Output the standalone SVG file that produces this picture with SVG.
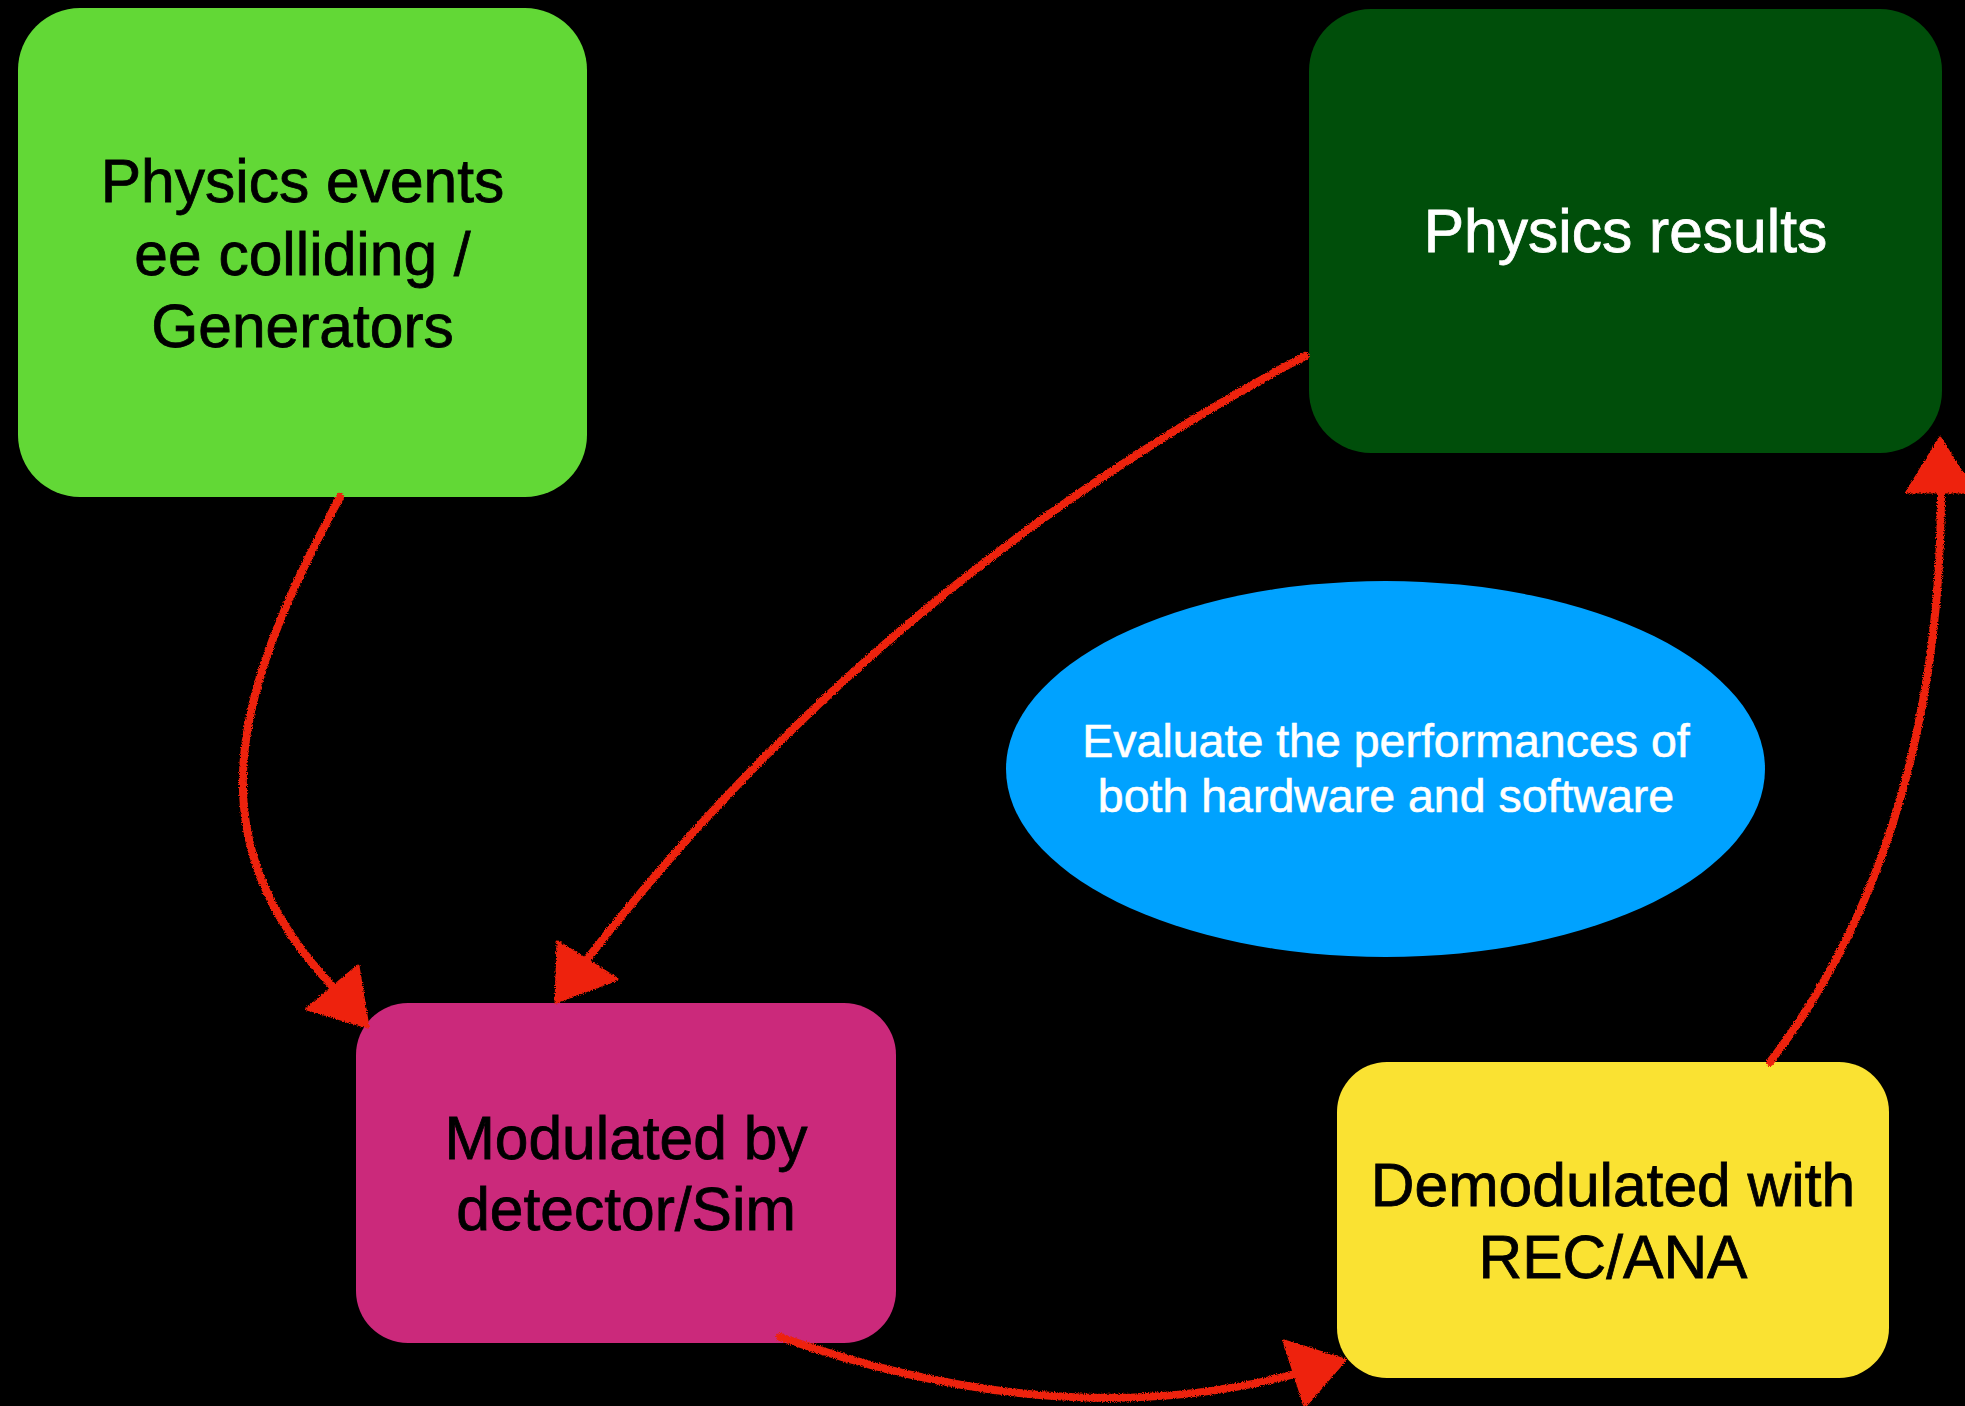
<svg xmlns="http://www.w3.org/2000/svg" width="1965" height="1406" viewBox="0 0 1965 1406">
  <style>
    .lbl { font-family: "Liberation Sans", Arial, Helvetica, sans-serif; font-size: 60.5px; text-anchor: middle; stroke-width: 0.8; }
    .dark { fill: #000000; stroke: #000000; }
    .light { fill: #FFFFFF; stroke: #FFFFFF; }
    .small { font-size: 46.5px; stroke-width: 0.6; }
    .line { fill: none; stroke: #EE220C; stroke-width: 8; stroke-linecap: round; }
    .head { fill: #EE220C; stroke: #EE220C; stroke-width: 3; stroke-linejoin: round; }
  </style>
  <defs>
    <filter id="chalk" filterUnits="userSpaceOnUse" x="0" y="0" width="1965" height="1406">
      <feTurbulence type="fractalNoise" baseFrequency="0.9" numOctaves="2" seed="3" result="n"/>
      <feDisplacementMap in="SourceGraphic" in2="n" scale="4" xChannelSelector="R" yChannelSelector="G"/>
    </filter>
  </defs>
  <rect x="0" y="0" width="1965" height="1406" fill="#000000"/>

  <g id="node-physics-events">
    <rect x="18" y="8" width="569" height="489" rx="62" ry="62" fill="#62D836"/>
    <text class="lbl dark" x="302.5" y="202">Physics events</text>
    <text class="lbl dark" x="302.5" y="275">ee colliding /</text>
    <text class="lbl dark" x="302.5" y="347">Generators</text>
  </g>

  <g id="node-physics-results">
    <rect x="1309" y="9" width="633" height="444" rx="62" ry="62" fill="#004E0A"/>
    <text class="lbl light" x="1625.5" y="252">Physics results</text>
  </g>

  <g id="node-evaluate">
    <ellipse cx="1385.5" cy="769" rx="379.5" ry="188" fill="#00A2FF"/>
    <text class="lbl light small" x="1386" y="757">Evaluate the performances of</text>
    <text class="lbl light small" x="1386" y="812">both hardware and software</text>
  </g>

  <g id="node-modulated">
    <rect x="356" y="1003" width="540" height="340" rx="52" ry="52" fill="#CB297B"/>
    <text class="lbl dark" x="626" y="1159">Modulated by</text>
    <text class="lbl dark" x="626" y="1230">detector/Sim</text>
  </g>

  <g id="node-demodulated">
    <rect x="1337" y="1062" width="552" height="316" rx="50" ry="50" fill="#FAE232"/>
    <text class="lbl dark" x="1613" y="1206">Demodulated with</text>
    <text class="lbl dark" x="1613" y="1278">REC/ANA</text>
  </g>

  <g id="connectors" filter="url(#chalk)">
    <!-- Physics events -> Modulated -->
    <path class="line" d="M340,497 C230,700 195,840 333,987"/>
    <polygon class="head" points="307,1009 358,966 368,1027"/>
    <!-- Physics results -> Modulated -->
    <path class="line" d="M1305,356 Q883,580 588,958"/>
    <polygon class="head" points="558,942 617,979 556,1002"/>
    <!-- Modulated -> Demodulated -->
    <path class="line" d="M780,1337 Q1062,1436 1295,1374"/>
    <polygon class="head" points="1284,1341 1345,1360 1305,1406"/>
    <!-- Demodulated -> Physics results -->
    <path class="line" d="M1770,1062 C1895,900 1941,692 1941,492"/>
    <polygon class="head" points="1907,492 1940,438 1974,492"/>
  </g>
</svg>
